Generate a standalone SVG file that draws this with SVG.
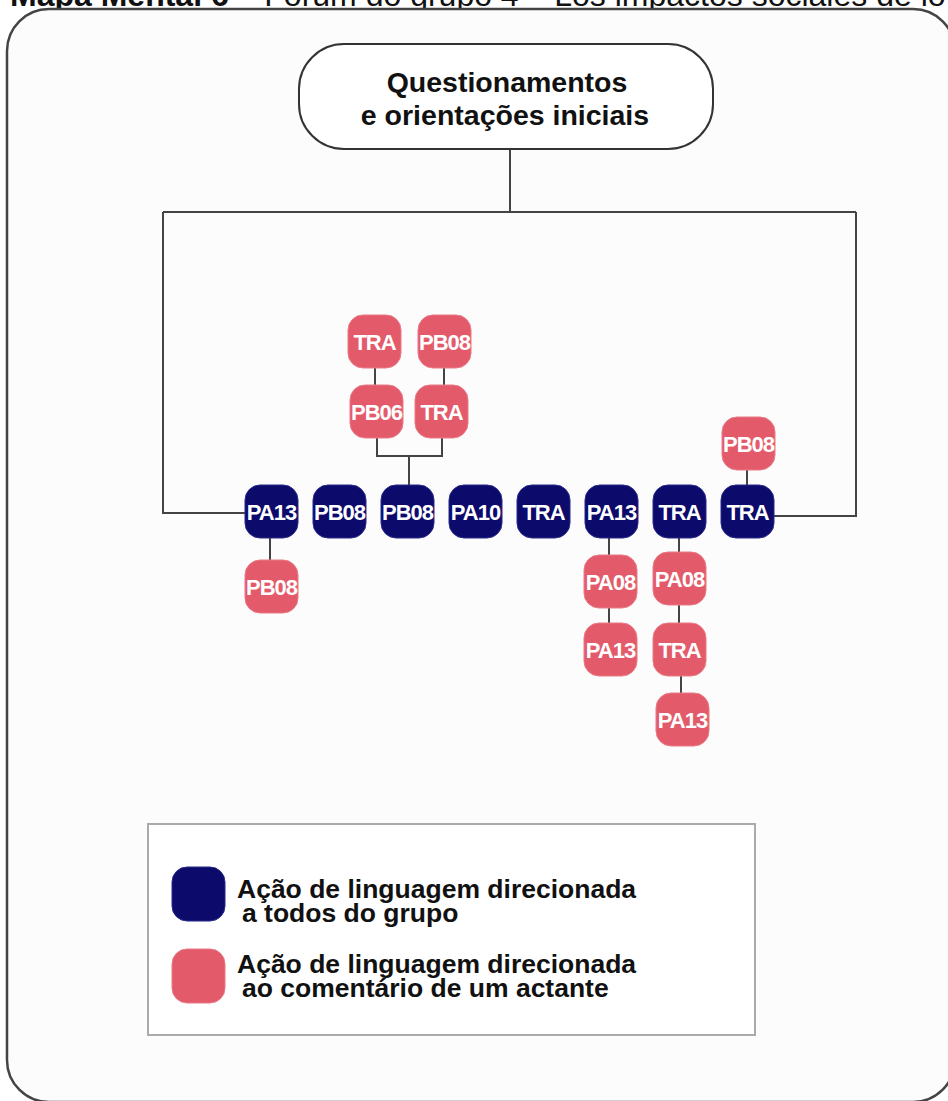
<svg xmlns="http://www.w3.org/2000/svg" width="948" height="1101" viewBox="0 0 948 1101">
<style>
.hdr{font-family:"Liberation Sans",Arial,sans-serif;font-size:32px;fill:#111}
.frame{fill:#fcfcfc;stroke:#444;stroke-width:2.5}
.root{fill:#fff;stroke:#333;stroke-width:2}
.rootText{font-family:"Liberation Sans",Arial,sans-serif;font-weight:bold;font-size:28.5px;fill:#111;text-anchor:middle}
.blue{fill:#0c0a6b;stroke:#2a2a8a;stroke-width:1}
.pink{fill:#e35b6a;stroke:#ea7a86;stroke-width:1}
.lbl{font-family:"Liberation Sans",Arial,sans-serif;font-weight:bold;font-size:22px;fill:#fff;text-anchor:middle;letter-spacing:-1px}
.conn{fill:none;stroke:#444;stroke-width:2}
.legend{fill:#fff;stroke:#aaa;stroke-width:2}
.legText{font-family:"Liberation Sans",Arial,sans-serif;font-weight:bold;font-size:26.5px;fill:#111}
</style>

<g id="header">
<text class="hdr" x="10" y="6"><tspan font-weight="bold">Mapa Mental 6</tspan> – Fórum do grupo 4 – Los impactos sociales de lo</text>
</g>

<rect class="frame" x="7" y="9" width="948" height="1093" rx="42" ry="42"/>

<g id="connectors">
<path class="conn" d="M510 150 V212"/>
<path class="conn" d="M163 212 H856"/>
<path class="conn" d="M163 212 V513 H245"/>
<path class="conn" d="M856 212 V516 H774"/>
<path class="conn" d="M270 538 V560"/>
<path class="conn" d="M375 368 V385"/>
<path class="conn" d="M444 368 V385"/>
<path class="conn" d="M377 438 V456 H442 V438"/>
<path class="conn" d="M409 456 V485"/>
<path class="conn" d="M609 538 V555"/>
<path class="conn" d="M609 608 V623"/>
<path class="conn" d="M679 538 V552"/>
<path class="conn" d="M679 605 V623"/>
<path class="conn" d="M681 676 V693"/>
<path class="conn" d="M747 470 V485"/>
</g>

<g id="root">
<rect class="root" x="299" y="44" width="414" height="105" rx="45" ry="45"/>
<text class="rootText" x="507" y="92">Questionamentos</text>
<text class="rootText" x="505" y="125">e orientações iniciais</text>
</g>

<g id="b1"><rect class="blue" x="245" y="485" width="53" height="53" rx="15"/><text class="lbl" x="271.5" y="519.5">PA13</text></g>
<g id="b2"><rect class="blue" x="313" y="485" width="53" height="53" rx="15"/><text class="lbl" x="339.5" y="519.5">PB08</text></g>
<g id="b3"><rect class="blue" x="381" y="485" width="53" height="53" rx="15"/><text class="lbl" x="407.5" y="519.5">PB08</text></g>
<g id="b4"><rect class="blue" x="449" y="485" width="53" height="53" rx="15"/><text class="lbl" x="475.5" y="519.5">PA10</text></g>
<g id="b5"><rect class="blue" x="517" y="485" width="53" height="53" rx="15"/><text class="lbl" x="543.5" y="519.5">TRA</text></g>
<g id="b6"><rect class="blue" x="585" y="485" width="53" height="53" rx="15"/><text class="lbl" x="611.5" y="519.5">PA13</text></g>
<g id="b7"><rect class="blue" x="653" y="485" width="53" height="53" rx="15"/><text class="lbl" x="679.5" y="519.5">TRA</text></g>
<g id="b8"><rect class="blue" x="721" y="485" width="53" height="53" rx="15"/><text class="lbl" x="747.5" y="519.5">TRA</text></g>

<g id="p1"><rect class="pink" x="348" y="315" width="53" height="53" rx="15"/><text class="lbl" x="374.5" y="349.5">TRA</text></g>
<g id="p2"><rect class="pink" x="418" y="315" width="53" height="53" rx="15"/><text class="lbl" x="444.5" y="349.5">PB08</text></g>
<g id="p3"><rect class="pink" x="350" y="385" width="53" height="53" rx="15"/><text class="lbl" x="376.5" y="419.5">PB06</text></g>
<g id="p4"><rect class="pink" x="415" y="385" width="53" height="53" rx="15"/><text class="lbl" x="441.5" y="419.5">TRA</text></g>
<g id="p5"><rect class="pink" x="245" y="560" width="53" height="53" rx="15"/><text class="lbl" x="271.5" y="594.5">PB08</text></g>
<g id="p6"><rect class="pink" x="584" y="555" width="53" height="53" rx="15"/><text class="lbl" x="610.5" y="589.5">PA08</text></g>
<g id="p7"><rect class="pink" x="584" y="623" width="53" height="53" rx="15"/><text class="lbl" x="610.5" y="657.5">PA13</text></g>
<g id="p8"><rect class="pink" x="653" y="552" width="53" height="53" rx="15"/><text class="lbl" x="679.5" y="586.5">PA08</text></g>
<g id="p9"><rect class="pink" x="653" y="623" width="53" height="53" rx="15"/><text class="lbl" x="679.5" y="657.5">TRA</text></g>
<g id="p10"><rect class="pink" x="656" y="693" width="53" height="53" rx="15"/><text class="lbl" x="682.5" y="727.5">PA13</text></g>
<g id="p11"><rect class="pink" x="722" y="417" width="53" height="53" rx="15"/><text class="lbl" x="748.5" y="451.5">PB08</text></g>

<g id="legend">
<rect class="legend" x="148" y="824" width="607" height="211"/>
<rect class="blue" x="172" y="867" width="53" height="54" rx="15"/>
<text class="legText"><tspan x="237" y="898">Ação de linguagem direcionada</tspan><tspan x="242" y="922">a todos do grupo</tspan></text>
<rect class="pink" x="172" y="949" width="53" height="54" rx="15"/>
<text class="legText"><tspan x="237" y="973">Ação de linguagem direcionada</tspan><tspan x="242" y="997">ao comentário de um actante</tspan></text>
</g>
</svg>
